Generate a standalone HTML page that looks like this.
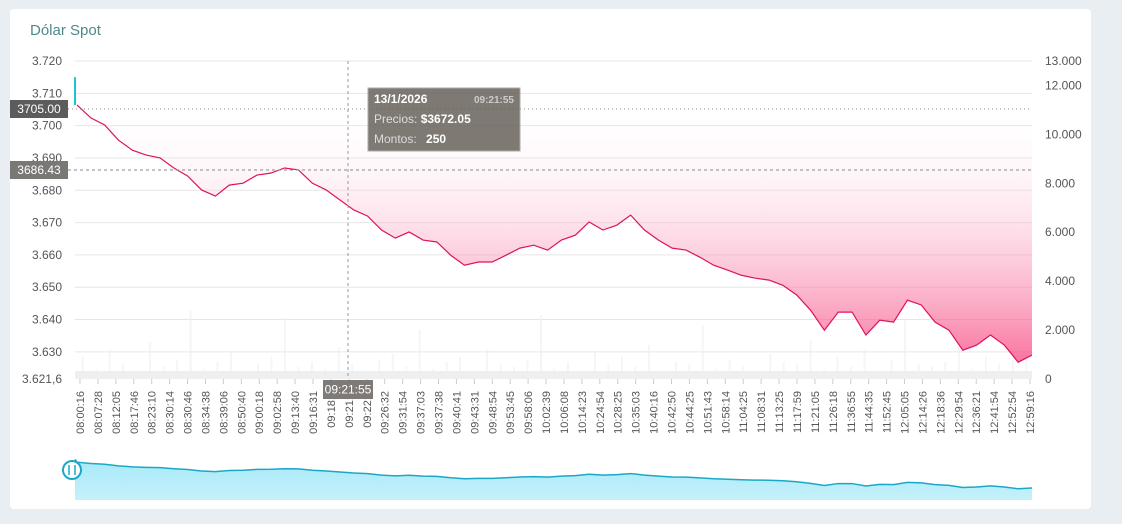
<!DOCTYPE html>
<html><head><meta charset="utf-8"><style>
body{margin:0;background:#e8eef2;font-family:"Liberation Sans",sans-serif;}
#card{position:absolute;left:10px;top:9px;width:1081px;height:500px;background:#fff;border-radius:4px;}
svg{position:absolute;left:0;top:0}
</style></head><body>
<div id="card"></div>
<svg id="c" width="1122" height="524"></svg>
<script>
const priceValues=[3.7150,3.7064,3.7024,3.7002,3.6955,3.6924,3.6909,3.6900,3.6869,3.6844,3.6801,3.6782,3.6816,3.6822,3.6847,3.6853,3.6869,3.6863,3.6822,3.6801,3.6770,3.6739,3.6720,3.6677,3.6652,3.6671,3.6646,3.6640,3.6599,3.6568,3.6578,3.6578,3.6599,3.6621,3.6630,3.6615,3.6646,3.6661,3.6702,3.6677,3.6692,3.6723,3.6677,3.6646,3.6621,3.6615,3.6593,3.6568,3.6553,3.6537,3.6528,3.6522,3.6506,3.6476,3.6429,3.6367,3.6423,3.6423,3.6352,3.6398,3.6392,3.6460,3.6445,3.6392,3.6367,3.6305,3.6321,3.6352,3.6321,3.6268,3.6290];
const volumeValues=[900,400,1200,600,300,1500,500,800,2800,400,700,1100,300,600,900,2500,500,700,400,1300,600,300,800,1000,500,2000,400,700,900,300,1200,600,500,800,2600,400,700,300,1100,600,900,500,1400,300,700,600,2200,400,800,500,300,1000,700,600,1600,400,900,500,1200,300,800,2400,600,500,700,1300,400,900,600,800,1000];
const leftTicks=[3.720,3.710,3.700,3.690,3.680,3.670,3.660,3.650,3.640,3.630];
const leftTickLabels=["3.720","3.710","3.700","3.690","3.680","3.670","3.660","3.650","3.640","3.630"];
const rightTicks=[13000,12000,10000,8000,6000,4000,2000,0];
const rightTickLabels=["13.000","12.000","10.000","8.000","6.000","4.000","2.000","0"];
const timeLabels=["08:00:16","08:07:28","08:12:05","08:17:46","08:23:10","08:30:14","08:30:46","08:34:38","08:39:06","08:50:40","09:00:18","09:02:58","09:13:40","09:16:31","09:18:3","09:21:1","09:22:1","09:26:32","09:31:54","09:37:03","09:37:38","09:40:41","09:43:31","09:48:54","09:53:45","09:58:06","10:02:39","10:06:08","10:14:23","10:24:54","10:28:25","10:35:03","10:40:16","10:42:50","10:44:25","10:51:43","10:58:14","11:04:25","11:08:31","11:13:25","11:17:59","11:21:05","11:26:18","11:36:55","11:44:35","11:52:45","12:05:05","12:14:26","12:18:36","12:29:54","12:36:21","12:41:54","12:52:54","12:59:16"];
const NS="http://www.w3.org/2000/svg",svg=document.getElementById('c');
function el(t,a,p){const e=document.createElementNS(NS,t);for(const k in a)e.setAttribute(k,a[k]);(p||svg).appendChild(e);return e;}
const X0=75,X1=1032,YT=61,YB=379,PMIN=3.6216,PMAX=3.720,VMAX=13000;
const N=priceValues.length;
const xs=i=>i==0?X0:X0+2+(X1-X0-2)*(i-1)/(N-2);
const yp=p=>YB-(p-PMIN)/(PMAX-PMIN)*(YB-YT);
const yv=v=>YB-v/VMAX*(YB-YT);
const defs=el('defs',{});
const g=el('linearGradient',{id:'pg',x1:0,y1:0,x2:0,y2:1},defs);
el('stop',{offset:'0','stop-color':'#ffffff','stop-opacity':0},g);
el('stop',{offset:'1','stop-color':'#f7467f','stop-opacity':0.75},g);
const ng=el('linearGradient',{id:'ng',x1:0,y1:0,x2:0,y2:1},defs);
el('stop',{offset:'0','stop-color':'#a8e9f8'},ng);el('stop',{offset:'1','stop-color':'#c4f1fb'},ng);
const t=el('text',{x:30,y:35,'font-size':15,fill:'#4e8a8a'});t.textContent='Dólar Spot';


leftTicks.forEach((v,i)=>{const y=yp(v);
 const l=el('line',{x1:X0,x2:X1,y1:y,y2:y,stroke:'#e6e6e6'});
 
 
 const tx=el('text',{x:62,y:y+4,'font-size':12,fill:'#555','text-anchor':'end'});tx.textContent=leftTickLabels[i];
 
 });
const lt=el('text',{x:62,y:YB+4,'font-size':12,fill:'#555','text-anchor':'end'});lt.textContent='3.621,6';


rightTicks.forEach((v,i)=>{const tx=el('text',{x:1045,y:yv(v)+4,'font-size':12,fill:'#555'});tx.textContent=rightTickLabels[i];
 
 });
// volume bars
const bw=(X1-X0)/volumeValues.length;
volumeValues.forEach((v,i)=>{const r=el('rect',{x:X0+i*bw+bw/2,y:yv(v),width:2,height:YB-yv(v),fill:'#eeeeee',opacity:0.6});
 
 });
el('rect',{x:X0,y:371,width:X1-X0,height:8,fill:'#efefef'});
// fill area
const TOPF=112;
let d='M'+xs(1)+' '+TOPF;priceValues.forEach((p,i)=>{if(i>0)d+=' L'+xs(i)+' '+yp(p);});d+=' L'+X1+' '+TOPF+'Z';
const fa=el('path',{d:d,fill:'url(#pg)'});


let ld='';priceValues.forEach((p,i)=>{if(i>0)ld+=(i==1?'M':' L')+xs(i)+' '+yp(p);});
const pl=el('path',{d:ld,fill:'none',stroke:'#e0115f','stroke-width':1.2});


const op=el('line',{x1:X0,x2:X0,y1:yp(priceValues[0]),y2:yp(priceValues[1]),stroke:'#20c4cc','stroke-width':2});


// crosshair
el('line',{x1:348,x2:348,y1:YT,y2:YB,stroke:'#999','stroke-dasharray':'3,3'});
el('line',{x1:68,x2:X1,y1:109,y2:109,stroke:'#888','stroke-dasharray':'1,3'});
el('line',{x1:68,x2:X1,y1:170,y2:170,stroke:'#888','stroke-dasharray':'3,3'});
function box(x,y,w,h,fill,txt,name){const r=el('rect',{x,y,width:w,height:h,fill});
 const tx=el('text',{x:x+w/2,y:y+h/2+4,'font-size':12,fill:'#fff','text-anchor':'middle'});tx.textContent=txt;}
// x labels
timeLabels.forEach((s,i)=>{const x=80+i*(1030-80)/(timeLabels.length-1);
 el('line',{x1:x,x2:x,y1:YB,y2:YB+5,stroke:'#ccc'});
 const tx=el('text',{x:0,y:0,'font-size':11,fill:'#555','text-anchor':'end',transform:`translate(${x+4},${YB+12}) rotate(-90)`});tx.textContent=s;
 
 });
box(10,100,58,18,'#5c5c5c','3705.00','price-label-open');
box(10,161,58,18,'#7a7875','3686.43','price-label-crosshair');
box(323,380,50,19,'#7e7a77','09:21:55','x-crosshair-label');
// tooltip
const tg=el('g',{});
el('rect',{x:368,y:88,width:152,height:63,fill:'rgba(105,97,92,0.85)',stroke:'#aaa'},tg);
let a=el('text',{x:374,y:103,'font-size':12,fill:'#fff','font-weight':'bold'},tg);a.textContent='13/1/2026';
a=el('text',{x:514,y:103,'font-size':10,fill:'#ccc','text-anchor':'end','font-weight':'bold'},tg);a.textContent='09:21:55';
a=el('text',{x:374,y:123,'font-size':12,fill:'#ddd'},tg);a.innerHTML='Precios: <tspan fill="#fff" font-weight="bold">$3672.05</tspan>';
a=el('text',{x:374,y:143,'font-size':12,fill:'#ddd'},tg);a.innerHTML='Montos:  <tspan fill="#fff" font-weight="bold" dx="6">250</tspan>';
// navigator
const NT=459,NB=489,NBot=500;
const yn=p=>NB-(p-3.626)/(3.716-3.626)*(NB-NT);
let nd='M'+xs(0)+' '+NBot;priceValues.forEach((p,i)=>nd+=' L'+xs(i)+' '+yn(p));nd+=' L'+X1+' '+NBot+'Z';
const na=el('path',{d:nd,fill:'url(#ng)'});
let nl='';priceValues.forEach((p,i)=>nl+=(i?' L':'M')+xs(i)+' '+yn(p));
el('path',{d:nl,fill:'none',stroke:'#1ba8c8','stroke-width':1.5});
const hd=el('g',{});
el('circle',{cx:72,cy:470,r:9,fill:'#fff',stroke:'#1ba8c8','stroke-width':2},hd);
el('line',{x1:69,x2:69,y1:465,y2:475,stroke:'#1ba8c8','stroke-width':1.5},hd);
el('line',{x1:75,x2:75,y1:465,y2:475,stroke:'#1ba8c8','stroke-width':1.5},hd);
</script></body></html>
